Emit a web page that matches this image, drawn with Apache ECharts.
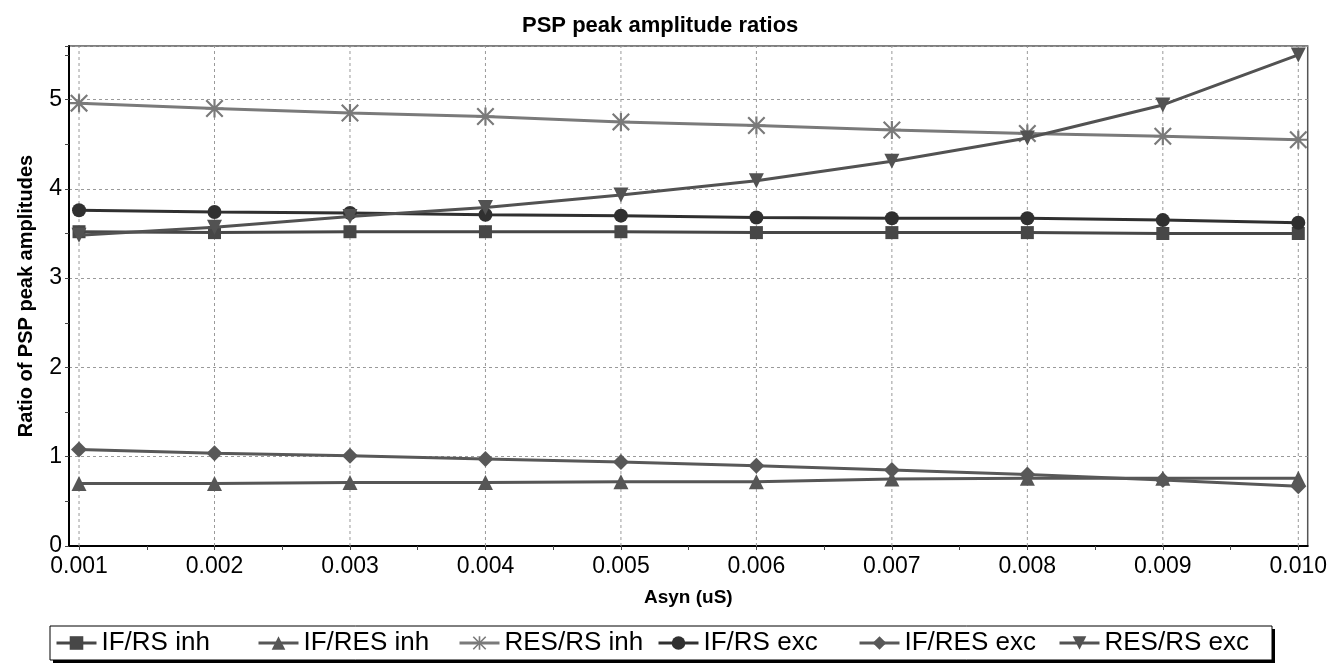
<!DOCTYPE html>
<html>
<head>
<meta charset="utf-8">
<script src="https://cdn.jsdelivr.net/npm/echarts@6/dist/echarts.min.js"></script>
<style>
html,body{margin:0;padding:0;background:#fff;}
#chart{width:1334px;height:663px;}
</style>
</head>
<body>
<div id="chart"></div>
<script>
// ---- data ----
const xValues = [0.001, 0.002, 0.003, 0.004, 0.005, 0.006, 0.007, 0.008, 0.009, 0.010];
const yTicks = [0, 1, 2, 3, 4, 5];
const seriesNames = ['IF/RS inh', 'IF/RES inh', 'RES/RS inh', 'IF/RS exc', 'IF/RES exc', 'RES/RS exc'];
const ifRsInh  = [3.52, 3.51, 3.52, 3.52, 3.52, 3.51, 3.51, 3.51, 3.50, 3.50];
const ifResInh = [0.70, 0.70, 0.71, 0.71, 0.72, 0.72, 0.75, 0.76, 0.76, 0.76];
const resRsInh = [4.96, 4.90, 4.85, 4.81, 4.75, 4.71, 4.66, 4.62, 4.59, 4.55];
const ifRsExc  = [3.76, 3.74, 3.73, 3.71, 3.70, 3.68, 3.67, 3.67, 3.65, 3.62];
const ifResExc = [1.08, 1.04, 1.01, 0.975, 0.94, 0.90, 0.85, 0.80, 0.74, 0.67];
const resRsExc = [3.48, 3.57, 3.69, 3.79, 3.93, 4.09, 4.31, 4.57, 4.94, 5.50];
const title = 'PSP peak amplitude ratios';
const xName = 'Asyn (uS)';
const yName = 'Ratio of PSP peak amplitudes';

// ---- styling ----
const FONT = 'Liberation Sans';
const asterisk = 'path://M8.8,0L11.2,0L11.2,20L8.8,20Z M0,8.8L20,8.8L20,11.2L0,11.2Z M1.7,0L20,18.3L18.3,20L0,1.7Z M18.3,0L20,1.7L1.7,20L0,18.3Z';
const styles = [
  {color: '#474747', symbol: 'rect', size: 13, rotate: 0},
  {color: '#565656', symbol: 'triangle', size: 15, rotate: 0},
  {color: '#7a7a7a', symbol: asterisk, size: 18, rotate: 0},
  {color: '#303030', symbol: 'circle', size: 14, rotate: 0},
  {color: '#585858', symbol: 'diamond', size: 16, rotate: 0},
  {color: '#525252', symbol: 'triangle', size: 15, rotate: 180}
];
const dataSets = [ifRsInh, ifResInh, resRsInh, ifRsExc, ifResExc, resRsExc];
const xMin = 0.000926, xMax = 0.0100694;
const yMin = 0, yMax = 5.6;
const midTicks = xValues.slice(0, -1).map((v, i) => (v + xValues[i + 1]) / 2);
const legendLefts = [55, 257, 458, 657, 858, 1058];

const series = [{
  type: 'custom',
  silent: true,
  z: 1,
  animation: false,
  data: xValues.map(v => [v, yMin]),
  encode: {x: 0, y: 1},
  renderItem: function (params, api) {
    const x = api.value(0);
    const p1 = api.coord([x, yMin]);
    const p2 = api.coord([x, yMax]);
    return {
      type: 'line',
      shape: {x1: p1[0], y1: p1[1], x2: p2[0], y2: p2[1]},
      style: {stroke: '#9a9a9a', lineWidth: 1, lineDash: [3, 3]}
    };
  }
}].concat(dataSets.map((d, i) => ({
  name: seriesNames[i],
  type: 'line',
  xAxisIndex: 0,
  data: d.map((v, j) => [xValues[j], v]),
  symbol: styles[i].symbol,
  symbolSize: styles[i].size,
  symbolRotate: styles[i].rotate,
  showAllSymbol: true,
  lineStyle: {color: styles[i].color, width: 3},
  itemStyle: {color: styles[i].color},
  z: 3 + i,
  animation: false
})));

const legends = seriesNames.map((n, i) => ({
  data: [n],
  left: legendLefts[i],
  top: 630,
  padding: 0,
  itemWidth: 40,
  itemHeight: 17,
  selectedMode: false,
  lineStyle: {width: 3},
  textStyle: {fontFamily: FONT, fontSize: 26, color: '#000'}
}));

const chart = echarts.init(document.getElementById('chart'));
chart.setOption({
  backgroundColor: '#fff',
  animation: false,
  title: {
    text: title,
    left: 522,
    top: 15,
    padding: 0,
    textStyle: {fontFamily: FONT, fontSize: 22, fontWeight: 'bold', color: '#000'}
  },
  graphic: [
    {type: 'rect', shape: {x: 53, y: 629, width: 1222, height: 34}, style: {fill: '#000'}, z: 0},
    {type: 'rect', shape: {x: 50, y: 626, width: 1222, height: 34}, style: {fill: '#fff', stroke: '#000', lineWidth: 1}, z: 1}
  ],
  legend: legends,
  grid: {
    left: 69, top: 46, right: 26.3, bottom: 117,
    show: true, borderColor: '#555', borderWidth: 1.5, backgroundColor: 'transparent'
  },
  xAxis: [
    {
      type: 'value',
      min: xMin, max: xMax,
      name: xName,
      nameLocation: 'middle',
      nameGap: 42,
      nameTextStyle: {fontFamily: FONT, fontSize: 19, fontWeight: 'bold', color: '#000'},
      axisLine: {show: true, onZero: false, lineStyle: {color: '#000', width: 2}},
      axisTick: {show: true, length: 4, customValues: xValues, lineStyle: {color: '#444'}},
      axisLabel: {
        customValues: xValues,
        margin: 9,
        fontFamily: FONT, fontSize: 23, color: '#000',
        formatter: v => v.toFixed(3)
      },
      splitLine: {show: false}
    },
    {
      type: 'value',
      min: xMin, max: xMax,
      position: 'bottom',
      axisLine: {show: false},
      axisTick: {show: true, length: 4, customValues: midTicks, lineStyle: {color: '#444'}},
      axisLabel: {show: false},
      splitLine: {show: false}
    }
  ],
  yAxis: {
    type: 'value',
    min: yMin, max: yMax, interval: 1,
    name: yName,
    nameLocation: 'middle',
    nameGap: 33,
    nameTextStyle: {fontFamily: FONT, fontSize: 20, fontWeight: 'bold', color: '#000'},
    axisLine: {show: true, lineStyle: {color: '#000', width: 2}},
    axisTick: {show: true, length: 4, lineStyle: {color: '#444'}},
    minorTick: {show: true, splitNumber: 2, length: 4, lineStyle: {color: '#444'}},
    axisLabel: {
      margin: 7, fontFamily: FONT, fontSize: 23, color: '#000', showMaxLabel: false,
      formatter: v => (yTicks.indexOf(v) >= 0 ? String(v) : '')
    },
    splitLine: {show: true, lineStyle: {color: '#9a9a9a', width: 1, type: [3, 3]}}
  },
  series: series
});
</script>
</body>
</html>
